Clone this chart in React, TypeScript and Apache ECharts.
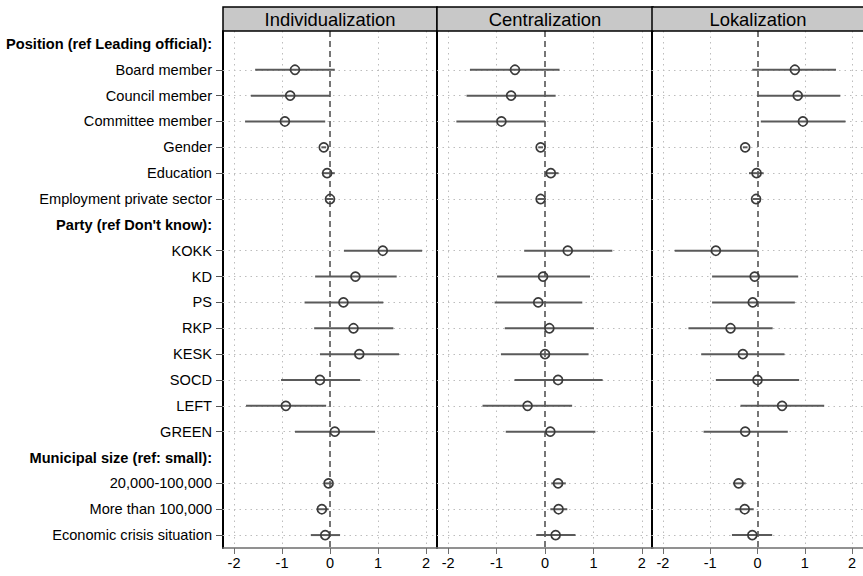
import React, { useEffect, useRef } from "react";
import * as echarts from "echarts";

const categories = [
  "Position (ref Leading official):",
  "Board member",
  "Council member",
  "Committee member",
  "Gender",
  "Education",
  "Employment private sector",
  "Party (ref Don't know):",
  "KOKK",
  "KD",
  "PS",
  "RKP",
  "KESK",
  "SOCD",
  "LEFT",
  "GREEN",
  "Municipal size (ref: small):",
  "20,000-100,000",
  "More than 100,000",
  "Economic crisis situation",
];
const headers = [
  "Position (ref Leading official):",
  "Party (ref Don't know):",
  "Municipal size (ref: small):",
];

const panelTitles = ["Individualization", "Centralization", "Lokalization"];

// [estimate, lower, upper] per category (null for header rows)
type Est = [number, number, number] | null;
const individualization: Est[] = [
  null,
  [-0.73, -1.56, 0.1],
  [-0.83, -1.65, 0.0],
  [-0.94, -1.77, -0.1],
  [-0.13, -0.18, -0.08],
  [-0.06, -0.17, 0.1],
  [0.0, -0.08, 0.07],
  null,
  [1.1, 0.29, 1.92],
  [0.53, -0.31, 1.39],
  [0.28, -0.53, 1.11],
  [0.49, -0.33, 1.32],
  [0.61, -0.21, 1.44],
  [-0.21, -1.02, 0.63],
  [-0.92, -1.75, -0.08],
  [0.1, -0.73, 0.94],
  null,
  [-0.03, -0.12, 0.05],
  [-0.17, -0.28, -0.03],
  [-0.1, -0.4, 0.21],
];
const centralization: Est[] = [
  null,
  [-0.62, -1.55, 0.3],
  [-0.7, -1.62, 0.22],
  [-0.9, -1.83, 0.0],
  [-0.09, -0.14, -0.04],
  [0.12, 0.0, 0.28],
  [-0.09, -0.16, -0.02],
  null,
  [0.47, -0.43, 1.39],
  [-0.04, -0.99, 0.93],
  [-0.14, -1.04, 0.77],
  [0.09, -0.83, 1.01],
  [0.0, -0.91, 0.9],
  [0.27, -0.63, 1.19],
  [-0.36, -1.29, 0.56],
  [0.11, -0.81, 1.04],
  null,
  [0.27, 0.13, 0.43],
  [0.28, 0.11, 0.46],
  [0.22, -0.18, 0.63],
];
const lokalization: Est[] = [
  null,
  [0.79, -0.11, 1.66],
  [0.85, 0.0, 1.75],
  [0.96, 0.07, 1.86],
  [-0.26, -0.31, -0.21],
  [-0.02, -0.18, 0.13],
  [-0.03, -0.1, 0.05],
  null,
  [-0.88, -1.75, 0.0],
  [-0.06, -0.96, 0.86],
  [-0.1, -0.96, 0.79],
  [-0.57, -1.46, 0.32],
  [-0.31, -1.19, 0.57],
  [0.0, -0.88, 0.88],
  [0.52, -0.36, 1.41],
  [-0.26, -1.14, 0.64],
  null,
  [-0.4, -0.52, -0.25],
  [-0.27, -0.47, -0.08],
  [-0.11, -0.54, 0.31],
];

const xTicks = [-2, -1, 0, 1, 2];
const gridX = [-2, -1, 1, 2];

const FONT = "'Liberation Sans', Arial, sans-serif";

export default function App() {
  const ref = useRef<HTMLDivElement>(null);
  useEffect(() => {
    if (!ref.current) return;
    const chart = echarts.init(ref.current, undefined, { renderer: "svg" });
    const panels = [individualization, centralization, lokalization];
    const gridPos = [
      { left: 223, width: 214 },
      { left: 437, width: 216 },
      { left: 652, width: 216 },
    ];
    const isHeader = (c: string) => headers.includes(c);

    const grids = gridPos.map((g) => ({
      left: g.left,
      width: g.width,
      top: 31,
      height: 517,
      containLabel: false,
    }));

    const xAxes = gridPos.map((_, i) => ({
      type: "value",
      gridIndex: i,
      min: -2.23,
      max: 2.23,
      axisLine: { show: true, onZero: false, lineStyle: { color: "#6e6e6e", width: 1.5 } },
      axisTick: {
        show: true,
        customValues: xTicks,
        length: 6,
        lineStyle: { color: "#6e6e6e", width: 1 },
      },
      axisLabel: {
        show: true,
        customValues: xTicks,
        fontSize: 14.5,
        color: "#000",
        fontFamily: FONT,
        margin: 7,
      },
      splitLine: { show: false },
    }));

    const yAxes = gridPos.map((_, i) => ({
      type: "category",
      gridIndex: i,
      data: categories,
      inverse: true,
      boundaryGap: true,
      axisLine: { show: true, onZero: false, lineStyle: { color: "#000", width: 2 } },
      axisTick: {
        show: i === 0,
        alignWithLabel: true,
        length: 7,
        interval: (idx: number) => !isHeader(categories[idx]),
        lineStyle: { color: "#555", width: 1 },
      },
      axisLabel: {
        show: i === 0,
        interval: 0,
        fontSize: 14.6,
        color: "#000",
        fontFamily: FONT,
        margin: 11,
        formatter: (v: string) => (isHeader(v) ? `{b|${v}}` : v),
        rich: {
          b: { fontWeight: "bold", fontSize: 14.6, fontFamily: FONT, color: "#000" },
        },
      },
      splitLine: { show: false },
    }));

    const series: any[] = [];
    panels.forEach((data, i) => {
      // gridlines and zero line
      const markData: any[] = [];
      gridX.forEach((x) => markData.push({ xAxis: x }));
      categories.forEach((c) => {
        if (!isHeader(c)) markData.push({ yAxis: c });
      });
      markData.push({
        xAxis: 0,
        lineStyle: { color: "#4a4a4a", type: [6, 4], width: 1.5 },
      });
      series.push({
        type: "line",
        xAxisIndex: i,
        yAxisIndex: i,
        data: [],
        silent: true,
        z: 1,
        markLine: {
          silent: true,
          z: 1,
          symbol: "none",
          label: { show: false },
          lineStyle: { color: "#bdbdbd", type: [1.5, 4], width: 1 },
          data: markData,
        },
      });
      // confidence intervals
      const ciData: any[] = [];
      data.forEach((d, idx) => {
        if (d) ciData.push([d[1], d[2], idx]);
      });
      series.push({
        type: "custom",
        xAxisIndex: i,
        yAxisIndex: i,
        z: 4,
        encode: { x: [0, 1], y: 2 },
        data: ciData,
        renderItem: (params: any, api: any) => {
          const a = api.coord([api.value(0), api.value(2)]);
          const b = api.coord([api.value(1), api.value(2)]);
          return {
            type: "line",
            shape: { x1: a[0], y1: a[1], x2: b[0], y2: b[1] },
            style: { stroke: "#5a5a5a", lineWidth: 2 },
          };
        },
      });
      // point estimates
      const ptData: any[] = [];
      data.forEach((d, idx) => {
        if (d) ptData.push([d[0], idx]);
      });
      series.push({
        type: "scatter",
        xAxisIndex: i,
        yAxisIndex: i,
        data: ptData,
        symbol: "circle",
        symbolSize: 9,
        itemStyle: { color: "transparent", borderColor: "#3a3a3a", borderWidth: 1.7, opacity: 1 },
        z: 6,
      });
    });

    const graphics: any[] = [];
    gridPos.forEach((g, i) => {
      graphics.push({
        type: "rect",
        shape: { x: g.left, y: 7, width: g.width, height: 24 },
        style: { fill: "#c8c8c8", stroke: "#000", lineWidth: 1.5 },
        z: 10,
      });
      graphics.push({
        type: "text",
        x: g.left + g.width / 2 + (i === 2 ? -2 : 0),
        y: 19,
        style: {
          text: panelTitles[i],
          fontSize: 18.4,
          fontFamily: FONT,
          fill: "#000",
          textAlign: "center",
          textVerticalAlign: "middle",
        },
        z: 11,
      });
    });

    chart.setOption({
      animation: false,
      backgroundColor: "#fff",
      grid: grids,
      xAxis: xAxes,
      yAxis: yAxes,
      series,
      graphic: graphics,
    });
    return () => chart.dispose();
  }, []);
  return <div ref={ref} style={{ width: 863, height: 576, position: "absolute", left: 0, top: 0 }} />;
}
